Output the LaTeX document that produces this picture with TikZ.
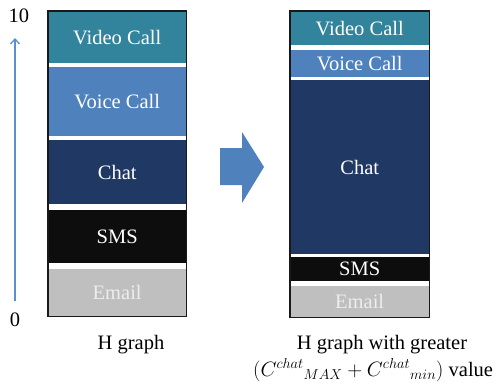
\documentclass[tikz,border=0pt]{standalone}
\usepackage{fontspec}
\setmainfont{Liberation Serif}
\usetikzlibrary{arrows.meta}
\definecolor{cvideo}{HTML}{31849B}
\definecolor{cvoice}{HTML}{4F81BD}
\definecolor{cchat}{HTML}{1F3864}
\definecolor{csms}{HTML}{0D0D0D}
\definecolor{cemail}{HTML}{BFBFBF}
\definecolor{carrow}{HTML}{4F81BD}
\definecolor{caxis}{HTML}{5B8FD0}
\begin{document}
\begin{tikzpicture}[x=1pt,y=-1pt,
  seg/.style={inner sep=0pt, anchor=north west, text=white,
    font=\fontsize{20.5}{24}\selectfont},
  lbl/.style={inner sep=0pt, font=\fontsize{20.5}{24}\selectfont, text=black}]
\useasboundingbox (0,0) rectangle (504,384);
% ---- left box ----
\node[seg, fill=cvideo, minimum width=138pt, minimum height=52pt] (lvideo) at (48,11) {Video Call};
\node[seg, fill=cvoice, minimum width=138pt, minimum height=69pt] (lvoice) at (48,67) {Voice Call};
\node[seg, fill=cchat, minimum width=138pt, minimum height=64pt] (lchat) at (48,140) {Chat};
\node[seg, fill=csms, minimum width=138pt, minimum height=53pt] (lsms) at (48,210) {SMS};
\node[seg, fill=cemail, text=white!93!black, minimum width=138pt, minimum height=47pt] (lemail) at (48,269) {Email};
\draw[draw=black!90, line width=1.6pt] (lvideo.north west) rectangle (lemail.south east);
% ---- right box ----
\node[seg, fill=cvideo, minimum width=139pt, minimum height=34pt] (rvideo) at (290,11) {Video Call};
\node[seg, fill=cvoice, minimum width=139pt, minimum height=27pt] (rvoice) at (290,50) {Voice Call};
\node[seg, fill=cchat, minimum width=139pt, minimum height=174pt] (rchat) at (290,80) {Chat};
\node[seg, fill=csms, minimum width=139pt, minimum height=24pt] (rsms) at (290,257) {SMS};
\node[seg, fill=cemail, text=white!93!black, minimum width=139pt, minimum height=31pt] (remail) at (290,286) {Email};
\draw[draw=black!90, line width=1.6pt] (rvideo.north west) rectangle (remail.south east);
% ---- axis ----
\node[lbl] (ten) at (19,16) {10};
\node[lbl] (zero) at (15,320) {0};
\coordinate (abot) at (15,301);
\coordinate (atop) at (15,38);
\draw[caxis, line width=1.3pt, -{Straight Barb[length=5pt,width=9pt]}] (abot) -- (atop);
% ---- block arrow ----
\fill[carrow] (220,148) -- (242,148) -- (242,132) -- (264,167) -- (242,203) -- (242,185) -- (220,185) -- cycle;
% ---- captions ----
\node[lbl] (lcap) at (131,345) {H graph};
\node[lbl] (rcap1) at (382,345) {H graph with greater};
\node[lbl, anchor=west] (rcap2) at (253,370) {$(C^{chat}{}_{MAX}+C^{chat}{}_{min})$ value};
\end{tikzpicture}
\end{document}
